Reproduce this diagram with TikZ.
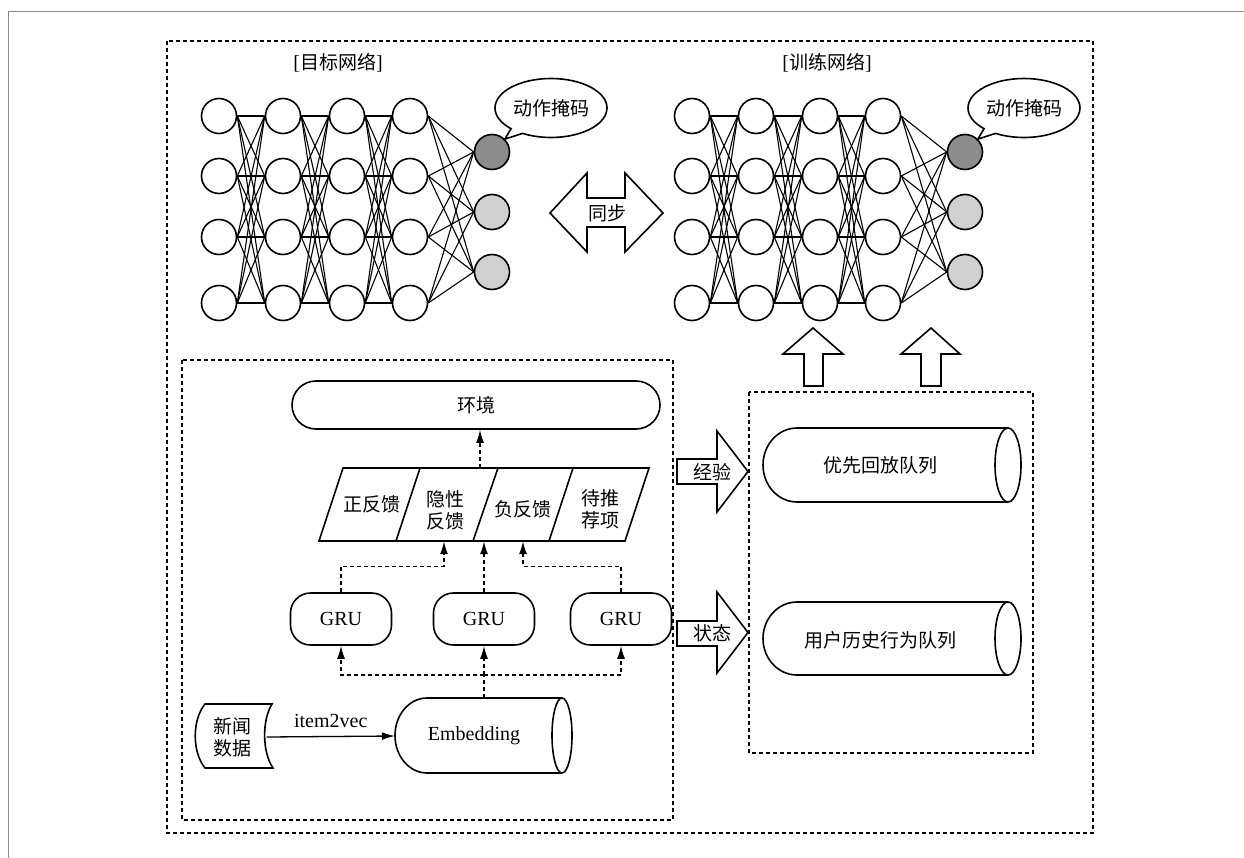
\documentclass[tikz,border=0pt]{standalone}
\usepackage{fontspec}
\setmainfont{Liberation Serif}
\newfontfamily\cjk{Noto Sans CJK SC}
\usetikzlibrary{arrows.meta,shapes.callouts}

\definecolor{outdark}{HTML}{8C8C8C}
\definecolor{outlight}{HTML}{D0D0D0}
\definecolor{framegray}{HTML}{8A8A8A}

\begin{document}
\begin{tikzpicture}[x=1pt,y=-1pt,
  txt/.style={font=\fontsize{20}{22}\selectfont},
  zh/.style={font=\cjk\fontsize{19}{22}\selectfont, align=center},
  outline/.style={line width=1.6pt},
  neuron/.style={circle,draw,line width=1.6pt,fill=white,minimum size=35pt,inner sep=0pt},
  net/.style={line width=1.1pt},
  dotbox/.style={line width=1.6pt,dash pattern=on 4pt off 3pt},
  flow/.style={line width=1.4pt,dash pattern=on 4pt off 3pt,-{Latex[length=13pt,width=8pt]}},
  flowline/.style={line width=1.4pt,dash pattern=on 4pt off 3pt},
  solidflow/.style={line width=1.3pt,-{Latex[length=13pt,width=8pt]}},
  pill/.style={draw,outline,txt,minimum width=101pt,minimum height=52pt,rounded corners=20pt},
  bubble/.style={ellipse callout,draw,outline,zh,inner sep=0pt,minimum width=112pt,minimum height=59pt,fill=white},
  area/.style={inner sep=0pt}
]
\useasboundingbox (0,0) rectangle (1244,858);

% page frame
\draw[framegray,line width=1pt] (1244,12) -- (8,12) -- (8,858);

% dotted groups
\draw[dotbox] (167,41) rectangle (1093,833);
\draw[dotbox] (182,360) rectangle (673,820);
\draw[dotbox] (749,392) rectangle (1033,753);

% ---------- two networks ----------
\foreach \p/\dx in {L/0,R/473}{
  \foreach \c/\x in {1/219,2/283,3/347,4/410}
    \foreach \r/\y in {1/116,2/176,3/237,4/303}
      \node[neuron] (\p\c-\r) at (\x+\dx,\y) {};
  \node[neuron,fill=outdark]  (\p o1) at (492+\dx,152) {};
  \node[neuron,fill=outlight] (\p o2) at (492+\dx,212) {};
  \node[neuron,fill=outlight] (\p o3) at (492+\dx,272) {};
  \foreach \a/\b in {1/2,2/3,3/4}
    \foreach \i in {1,2,3,4}
      \foreach \j in {1,2,3,4}
        \draw[net] (\p\a-\i.east) -- (\p\b-\j.west);
  \foreach \i in {1,2,3,4}
    \foreach \j in {1,2,3}
      \draw[net] (\p4-\i.east) -- (\p o\j.west);
}

\node[txt] (ttarget) at (338,63) {[{\cjk\fontsize{19}{22}\selectfont 目标网络}]};
\node[txt] (ttrain)  at (827,63) {[{\cjk\fontsize{19}{22}\selectfont 训练网络}]};

\node[bubble,callout absolute pointer={(Lo1.north east)}] (maskL) at (551,108) {动作掩码};
\node[bubble,callout absolute pointer={(Ro1.north east)}] (maskR) at (1024,108) {动作掩码};

% synchronisation double arrow
\draw[outline,fill=white] (550,213) -- (587,173) -- (587,198) -- (625,198) -- (625,173)
  -- (663,213) -- (625,252) -- (625,227) -- (587,227) -- (587,252) -- cycle;
\node[zh] (sync) at (607,213) {同步};

% block arrows feeding the training network
\draw[outline,fill=white] (813,328) -- (843,354) -- (823,354) -- (823,386) -- (804,386)
  -- (804,354) -- (783,354) -- cycle;
\draw[outline,fill=white] (931,328) -- (960,354) -- (941,354) -- (941,386) -- (921,386)
  -- (921,354) -- (901,354) -- cycle;

% ---------- replay memory ----------
\draw[outline] (1008,428) -- (797,428) arc[start angle=270,end angle=90,x radius=34,y radius=37] -- (1008,502);
\draw[outline] (1008,465) ellipse[x radius=13,y radius=37];
\node[zh,area,minimum width=234pt,minimum height=74pt] (replay) at (880,465) {优先回放队列};

\draw[outline] (1008,602) -- (797,602) arc[start angle=270,end angle=90,x radius=34,y radius=36.5] -- (1008,675);
\draw[outline] (1008,638.5) ellipse[x radius=13,y radius=36.5];
\node[zh,area,minimum width=234pt,minimum height=73pt] (history) at (880,640) {用户历史行为队列};

% experience / state arrows
\draw[outline,fill=white] (677,459) -- (717,459) -- (717,431) -- (748,471.5) -- (717,512)
  -- (717,484) -- (677,484) -- cycle;
\node[zh] (exp) at (712,472) {经验};
\draw[outline,fill=white] (677,621) -- (717,621) -- (717,592) -- (748,632.5) -- (717,673)
  -- (717,646) -- (677,646) -- cycle;
\node[zh] (state) at (712,633) {状态};

% ---------- environment side ----------
\node[draw,outline,zh,minimum width=368pt,minimum height=48pt,rounded corners=24pt] (env) at (476,405) {环境};

% feedback parallelogram
\node[area,minimum width=330pt,minimum height=73pt] (fb) at (484,504.5) {};
\draw[outline] (343,468) -- (649,468) -- (625,541) -- (319,541) -- cycle;
\draw[outline] (420,468) -- (396,541);
\draw[outline] (498,468) -- (473,541);
\draw[outline] (573,468) -- (549,541);
\node[zh] (c1) at (372,504) {正反馈};
\node[zh] (c2) at (445,510) {隐性\\反馈};
\node[zh] (c3) at (523,509) {负反馈};
\node[zh] (c4) at (600,509) {待推\\荐项};

\draw[flow] ([xshift=-4pt]fb.north) -- ([xshift=-4pt]fb.north |- env.south);

% GRU units
\node[pill] (g1) at (341,619) {GRU};
\node[pill] (g2) at (484,619) {GRU};
\node[pill] (g3) at (621,619) {GRU};

\draw[flow] (g1.north) -- ++(0,-26) -| ([xshift=-40pt]fb.south);
\draw[flow] (g2.north) -- (fb.south);
\draw[flow] (g3.north) -- ++(0,-26) -| ([xshift=39pt]fb.south);

% embedding store
\draw[outline] (562,698) -- (427,698) arc[start angle=270,end angle=90,x radius=32,y radius=37.5] -- (562,773);
\draw[outline] (562,735.5) ellipse[x radius=10,y radius=37.5];
\node[txt,area,minimum width=158pt,minimum height=75pt] (emb) at (474,736) {Embedding};

\coordinate (split) at (484,675);
\draw[flowline] (g2.south |- emb.north) -- (split);
\draw[flow] (split) -| (g1.south);
\draw[flow] (split) -| (g3.south);
\draw[flow] (split) -- (g2.south);

% news data source
\draw[outline] (205,704) -- (272,704) .. controls (262,720) and (262,752) .. (273,768)
  -- (205,768) .. controls (192,752) and (192,720) .. (205,704) -- cycle;
\node[zh,area,minimum width=77pt,minimum height=64pt] (news) at (232,737) {新闻\\数据};

\draw[solidflow] ([xshift=-4pt]news.east) -- (emb.west) node[midway,above=5pt,txt] {item2vec};
\end{tikzpicture}
\end{document}
